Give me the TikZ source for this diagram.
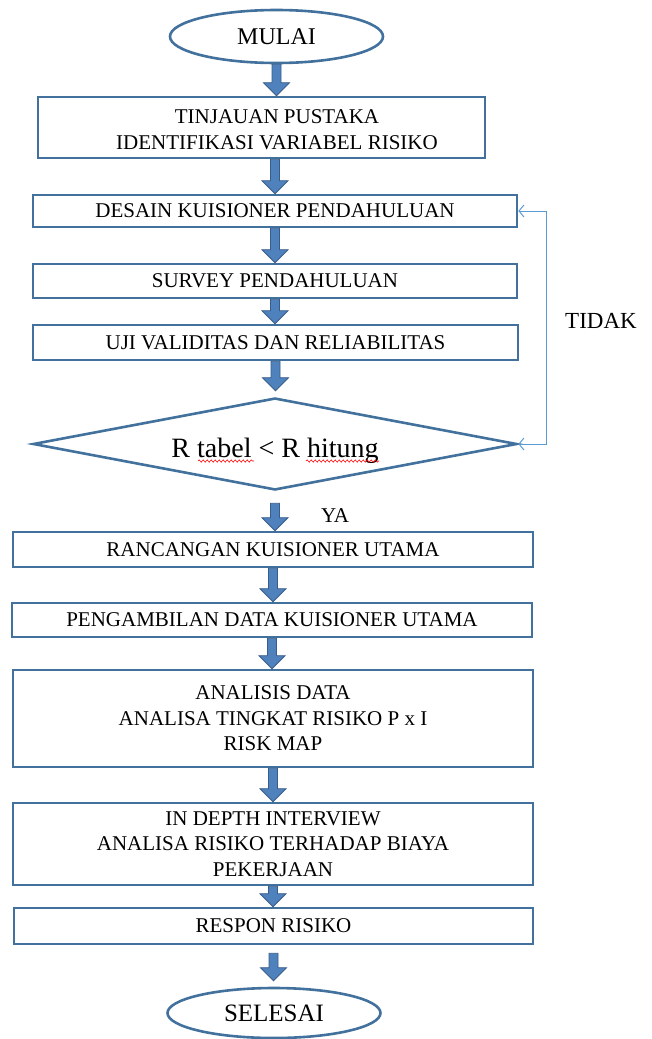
\documentclass[tikz,border=0pt]{standalone}
\usepackage{fontspec}
\setmainfont{Liberation Serif}
\usetikzlibrary{shapes.geometric,arrows.meta,calc,decorations.pathmorphing}
\definecolor{boxline}{HTML}{41719C}
\definecolor{arrfill}{HTML}{4F81BD}
\definecolor{arrline}{HTML}{385D8A}
\definecolor{fbline}{HTML}{5B9BD5}
\begin{document}
\begin{tikzpicture}[x=1pt,y=-1pt,
  box/.style={draw=boxline, line width=2.6pt, rectangle, inner sep=0pt, align=center,
    font=\fontsize{21}{25.5}\selectfont},
  term/.style={draw=boxline, line width=2.6pt, ellipse, inner sep=0pt},
  txt/.style={inner sep=0pt, align=center, font=\fontsize{21}{25.5}\selectfont},
  blockarrow/.style={fill=arrfill, draw=arrline, line width=0.8pt, line join=miter,
    to path={let \p1=(\tikztostart), \p2=(\tikztotarget) in
      (\x1-4.5pt,\y1) -- (\x1+4.5pt,\y1) -- (\x1+4.5pt,\y2+13pt) -- (\x1+13pt,\y2+13pt)
      -- (\x1,\y2) -- (\x1-13pt,\y2+13pt) -- (\x1-4.5pt,\y2+13pt) -- cycle}},
  fb/.style={draw=fbline, line width=1pt,
    {Straight Barb[length=5pt,width=12pt]}-{Straight Barb[length=5pt,width=12pt]}},
  wave/.style={draw=red, line width=0.6pt, decorate,
    decoration={snake, amplitude=1.1pt, segment length=4pt}},
]
\useasboundingbox (0,0) rectangle (651,1039);

\node[term, minimum width=213pt, minimum height=53pt, font=\fontsize{24}{28}\selectfont] (start) at (276.5,36.5) {MULAI};
\node[box, minimum width=447pt, minimum height=61pt] (b1) at (261.5,127.5) {};
\node[txt] (b1t) at (277,129.5) {TINJAUAN PUSTAKA\\IDENTIFIKASI VARIABEL RISIKO};
\node[box, minimum width=484pt, minimum height=32pt] (b2) at (275,211) {DESAIN KUISIONER PENDAHULUAN};
\node[box, minimum width=484pt, minimum height=34pt] (b3) at (275,281) {SURVEY PENDAHULUAN};
\node[box, minimum width=485pt, minimum height=35pt] (b4) at (275.5,342.5) {UJI VALIDITAS DAN RELIABILITAS};
\node[draw=boxline, line width=2.6pt, diamond, aspect=5.26, inner sep=0pt,
      minimum width=484pt, minimum height=92pt] (d) at (275,444) {};
\node[inner sep=0pt, anchor=base, font=\fontsize{28}{32}\selectfont] (dt) at (275,457) {R tabel < R hitung};
\node[box, minimum width=520pt, minimum height=35pt] (b5) at (273,549.5) {RANCANGAN KUISIONER UTAMA};
\node[box, minimum width=520pt, minimum height=34pt] (b6) at (272,620) {PENGAMBILAN DATA KUISIONER UTAMA};
\node[box, minimum width=520pt, minimum height=97pt] (b7) at (273,718.5) {ANALISIS DATA\\ANALISA TINGKAT RISIKO P x I\\RISK MAP};
\node[box, minimum width=520pt, minimum height=82pt] (b8) at (273,844) {IN DEPTH INTERVIEW\\ANALISA RISIKO TERHADAP BIAYA\\PEKERJAAN};
\node[box, minimum width=519pt, minimum height=36pt] (b9) at (273.5,926) {RESPON RISIKO};
\node[term, minimum width=213pt, minimum height=50pt, font=\fontsize{25}{30}\selectfont] (stop) at (274,1013) {SELESAI};

\node[txt, font=\fontsize{23}{27}\selectfont] (tidak) at (601,321) {TIDAK};
\node[txt] (ya) at (335,516) {YA};

% spell-check waves
\draw[wave] ($(dt.base)+(-77,4)$) -- ++(56,0);
\draw[wave] ($(dt.base)+(31,4)$) -- ++(73,0);

% block arrows
\draw[blockarrow] (start.south) to (start.south |- b1.north);
\draw[blockarrow] (b1.south -| b2.north) to (b2.north);
\draw[blockarrow] (b2.south) to (b3.north);
\draw[blockarrow] (b3.south) to (b4.north);
\draw[blockarrow] (b4.south) to ([yshift=6pt]d.north);
\draw[blockarrow] ([yshift=-12pt]d.south) to (b5.north);
\draw[blockarrow] (b5.south) to (b6.north);
\draw[blockarrow] (b6.south) to (b7.north);
\draw[blockarrow] (b7.south) to (b8.north);
\draw[blockarrow] (b8.south) to (b9.north);
\draw[blockarrow] ([yshift=-8pt]b9.south) to ([yshift=6pt]stop.north);

% feedback loop
\coordinate (fbx) at (546,0);
\draw[fb] (d.east) -- (d.east -| fbx) |- (b2.east);
\end{tikzpicture}
\end{document}
